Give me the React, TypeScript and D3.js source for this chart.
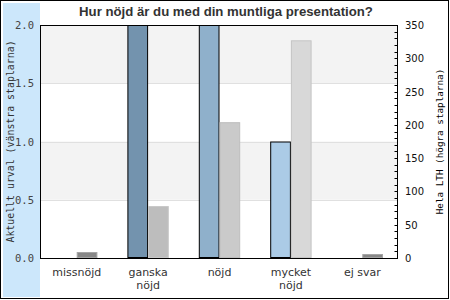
import React from "react";
import * as d3 from "d3";

const categories = ["missnöjd", "ganska nöjd", "nöjd", "mycket nöjd", "ej svar"];
const categoryLines = [["missnöjd"], ["ganska", "nöjd"], ["nöjd"], ["mycket", "nöjd"], ["ej svar"]];
const currentValues = [0, 2, 2, 1, 0];
const lthValues = [9, 78, 204, 327, 6];
const leftTicks = [0, 0.5, 1, 1.5, 2];
const rightTicks = [0, 50, 100, 150, 200, 250, 300, 350];
const blueColors = ["#7393ae", "#7393ae", "#8fb0cb", "#abcbe6", "#abcbe6"];
const grayColors = ["#888888", "#bdbdbd", "#cacaca", "#d8d8d8", "#888888"];
const grayStroke = ["#a5a5a5", "#c8c8c8", "#bdbdbd", "#c5c5c5", "#a5a5a5"];
const title = "Hur nöjd är du med din muntliga presentation?";

export default function App() {
  const W = 450, H = 300;
  const left = 40, right = 398, top = 25, bottom = 258;
  const x = d3.scaleBand<string>().domain(categories).range([left + 1, right]);
  const yL = d3.scaleLinear().domain([0, 2]).range([bottom, top]);
  const yR = d3.scaleLinear().domain([0, 350]).range([bottom, top]);
  const bw = 20.7;
  const minor = d3.range(0, 351, 10);
  return (
    <svg width={W} height={H} style={{ position: "absolute", left: 0, top: 0 }}>
      <rect x={0} y={0} width={W} height={H} fill="#fff" />
      <rect x={3} y={3} width={left - 3} height={294} fill="#cce7fb" />
      {/* bands */}
      <rect x={left} y={yL(2)} width={right - left} height={yL(1.5) - yL(2)} fill="#f3f3f3" />
      <rect x={left} y={yL(1)} width={right - left} height={yL(0.5) - yL(1)} fill="#f3f3f3" />
      {[0.5, 1, 1.5].map((t) => (
        <line key={t} x1={left} x2={right} y1={Math.round(yL(t)) + 0.5} y2={Math.round(yL(t)) + 0.5} stroke="#e0e0e0" />
      ))}
      {/* bars */}
      {categories.map((c, i) => {
        const cx = (x(c) as number) + x.bandwidth() / 2;
        return (
          <g key={c}>
            {currentValues[i] > 0 && (
              <rect x={cx - bw + 0.5} y={yL(currentValues[i]) + 0.5} width={bw - 1} height={yL(0) - yL(currentValues[i]) - 1} fill={blueColors[i]} stroke="#000" />
            )}
            {lthValues[i] > 0 && (
              <rect x={cx + 0.5} y={yR(lthValues[i]) + 0.5} width={bw - 1} height={yR(0) - yR(lthValues[i]) - 1} fill={grayColors[i]} stroke={grayStroke[i]} />
            )}
          </g>
        );
      })}
      {/* plot border */}
      <rect x={left + 0.5} y={top + 0.5} width={right - left - 1} height={bottom - top} fill="none" stroke="#000" />
      {/* right ticks */}
      {minor.map((t) => (
        <line key={t} x1={right - 3.5} x2={right - 0.5} y1={Math.round(yR(t)) + 0.5} y2={Math.round(yR(t)) + 0.5} stroke="#000" />
      ))}
      {rightTicks.map((t) => (
        <text key={t} x={405} y={yR(t) + 4} fontFamily="DejaVu Sans" fontSize={10} fill="#111">{t}</text>
      ))}
      {leftTicks.map((t) => (
        <text key={t} x={34} y={yL(t) + 4} textAnchor="end" fontFamily="DejaVu Sans Mono" fontSize={10.5} fill="#444">{d3.format(".1f")(t)}</text>
      ))}
      {/* category labels */}
      {categories.map((c, i) => {
        const cx = (x(c) as number) + x.bandwidth() / 2;
        return (
          <text key={c} x={cx} y={276} textAnchor="middle" fontFamily="DejaVu Sans" fontSize={11} fill="#333">
            {categoryLines[i].map((l, j) => (
              <tspan key={j} x={cx} dy={j === 0 ? 0 : 13}>{l}</tspan>
            ))}
          </text>
        );
      })}
      {/* axis titles */}
      <text transform={`translate(14,${(top + bottom) / 2}) rotate(-90)`} textAnchor="middle" fontFamily="DejaVu Sans Mono" fontSize={9.9} fill="#333">Aktuellt urval (vänstra staplarna)</text>
      <text transform={`translate(443,${(top + bottom) / 2}) rotate(-90)`} textAnchor="middle" fontFamily="DejaVu Sans Mono" fontSize={9.3} fill="#000">Hela LTH (högra staplarna)</text>
      <text x={226} y={16} textAnchor="middle" fontFamily="Liberation Sans" fontWeight="bold" fontSize={13.2} fill="#333">{title}</text>
      <rect x={0.5} y={0.5} width={448} height={298} fill="none" stroke="#000" />
    </svg>
  );
}
